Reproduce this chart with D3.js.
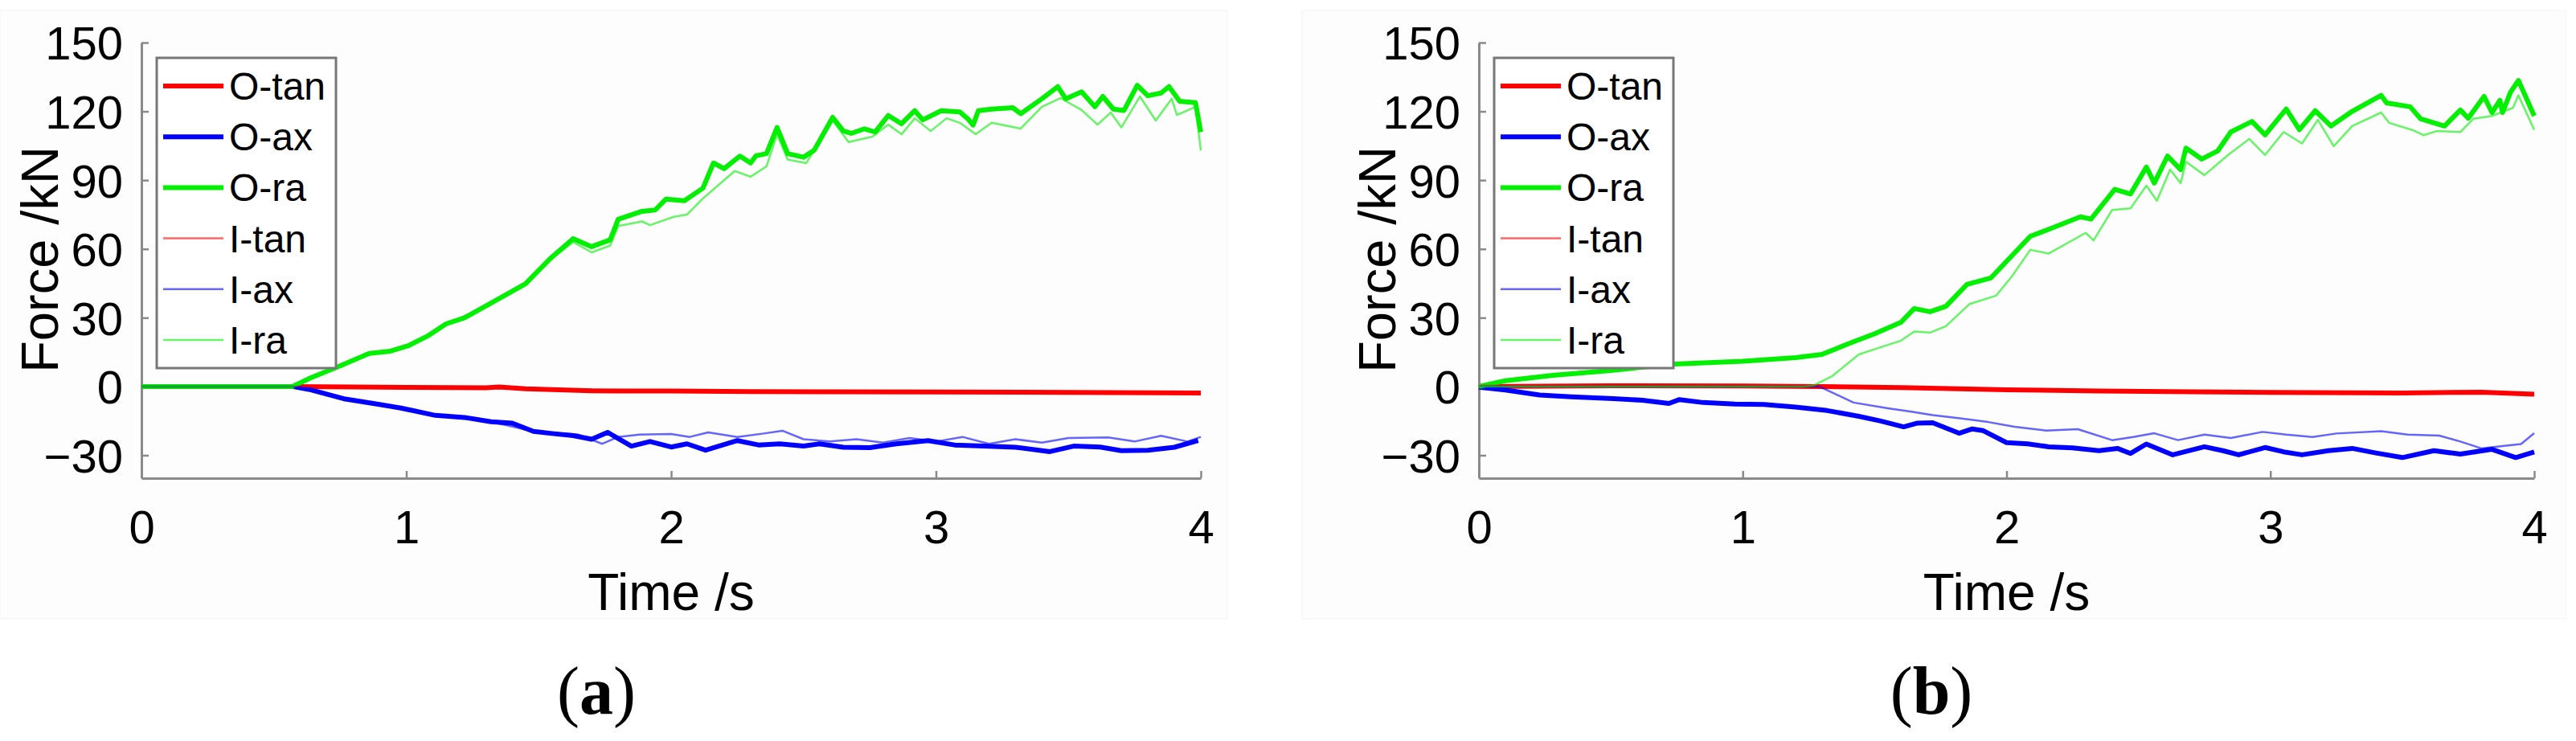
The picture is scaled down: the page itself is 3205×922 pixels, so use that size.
<!DOCTYPE html>
<html>
<head>
<meta charset="utf-8">
<script src="https://cdn.jsdelivr.net/npm/d3@7"></script>
<style>
  body { margin: 0; background: #fff; }
  svg text { font-family: "Liberation Sans", Arial, sans-serif; fill: #000; }
  text.caption { font-family: "Liberation Serif", "Times New Roman", serif; }
</style>
</head>
<body>
<div id="chart"></div>
<script>
// tick values and labels
var xTicks = [0, 1, 2, 3, 4];
var yTicks = [-30, 0, 30, 60, 90, 120, 150];
var seriesNames = ["O-tan", "O-ax", "O-ra", "I-tan", "I-ax", "I-ra"];
var captions = ["a", "b"];

// panel (a): [time s, force kN]
var aOTan = [[0,0],[0.57,0],[0.8,-0.2],[1.0,-0.4],[1.3,-0.6],[1.35,-0.2],[1.45,-1.0],[1.7,-1.9],[2.0,-2.0],[2.3,-2.2],[2.6,-2.3],[3.0,-2.4],[3.5,-2.6],[4.0,-2.8]];
var aOAx = [[0,0],[0.57,0],[0.64,-1.5],[0.77,-5.5],[0.88,-7.5],[0.98,-9.4],[1.11,-12.6],[1.22,-13.5],[1.32,-15.4],[1.40,-16],[1.48,-19.6],[1.55,-20.5],[1.63,-21.4],[1.70,-23],[1.76,-20],[1.85,-26],[1.92,-24],[2.0,-26.4],[2.06,-25],[2.13,-27.8],[2.25,-23.6],[2.33,-25.5],[2.41,-25],[2.50,-26],[2.56,-25],[2.65,-26.5],[2.75,-26.7],[2.85,-25],[2.97,-23.6],[3.07,-25.5],[3.18,-26],[3.30,-26.5],[3.43,-28.4],[3.52,-26],[3.62,-26.4],[3.70,-28],[3.80,-27.8],[3.90,-26.5],[3.99,-23.6]];
var aORa = [[0,0],[0.57,0],[0.64,3.8],[0.75,9],[0.86,14.4],[0.94,15.4],[1.01,17.9],[1.08,22],[1.15,27.3],[1.22,30],[1.32,36.4],[1.45,44.8],[1.54,55.4],[1.63,64.5],[1.70,61],[1.77,64],[1.80,72.9],[1.89,76.4],[1.94,77],[1.98,81.7],[2.05,81],[2.12,86.5],[2.16,97.5],[2.2,95],[2.26,100.5],[2.30,97.5],[2.32,100.6],[2.36,101.6],[2.40,113],[2.44,101.6],[2.50,100],[2.54,103],[2.61,117.4],[2.65,111.5],[2.68,110.4],[2.73,112.4],[2.77,111],[2.82,118.2],[2.87,114.6],[2.92,120.3],[2.95,116.3],[3.02,120.3],[3.09,119.8],[3.12,116.8],[3.14,114],[3.16,120.3],[3.21,121],[3.29,121.6],[3.32,119],[3.40,125.5],[3.46,130.8],[3.49,125.5],[3.55,128.5],[3.60,122],[3.63,126.5],[3.67,121],[3.71,120.4],[3.76,131.4],[3.80,126.8],[3.85,128],[3.88,130.8],[3.92,124.4],[3.98,123.8],[4.0,111]];
var aITan = [[0,0],[0.57,0],[1.0,-0.3],[1.5,-1.0],[2.0,-1.8],[3.0,-2.2],[4.0,-2.5]];
var aIAx = [[0,0],[0.57,0],[0.64,-1.5],[0.77,-5.5],[0.98,-9.4],[1.11,-12.6],[1.32,-15.4],[1.48,-19.6],[1.65,-21],[1.74,-25],[1.80,-22],[1.88,-21],[2.0,-20.7],[2.07,-22],[2.14,-20],[2.25,-22],[2.35,-20.5],[2.42,-19.3],[2.50,-23],[2.60,-24],[2.70,-23],[2.80,-24.5],[2.90,-22.5],[3.0,-24],[3.1,-22],[3.2,-25],[3.3,-23],[3.4,-24.5],[3.5,-22.5],[3.65,-22.2],[3.75,-24],[3.85,-21.5],[3.95,-24],[4.0,-22]];
var aIRa = [[0,0],[0.57,0],[0.64,3.5],[0.86,14],[1.01,17.5],[1.15,27],[1.32,36],[1.45,44.5],[1.54,55],[1.63,63],[1.70,58.5],[1.77,61.5],[1.80,70],[1.89,72],[1.92,70.4],[2.01,74],[2.06,75],[2.12,82],[2.19,89],[2.24,94],[2.30,91.5],[2.36,96],[2.40,110],[2.44,99],[2.51,97.4],[2.61,116],[2.67,106.6],[2.76,109],[2.82,114.2],[2.87,110],[2.92,117],[2.98,111.4],[3.04,117],[3.09,115],[3.15,110],[3.21,115],[3.32,112.5],[3.40,122],[3.47,125.8],[3.55,120.6],[3.61,114.2],[3.66,119.5],[3.70,113],[3.77,126.5],[3.83,116],[3.89,125.5],[3.91,118.4],[3.98,122],[4.0,103]];

// panel (b)
var bOTan = [[0,0],[0.5,0.3],[1.0,0.2],[1.3,0],[1.6,-0.5],[2.0,-1.4],[2.35,-2.0],[2.7,-2.3],[3.0,-2.6],[3.5,-2.8],[3.8,-2.5],[4.0,-3.4]];
var bOAx = [[0,-0.3],[0.1,-1.5],[0.23,-3.7],[0.35,-4.5],[0.51,-5.3],[0.62,-6],[0.72,-7.4],[0.76,-5.7],[0.85,-7],[0.97,-7.7],[1.08,-7.8],[1.2,-9],[1.32,-10.5],[1.44,-13],[1.52,-15],[1.61,-17.6],[1.66,-16],[1.72,-15.8],[1.82,-20.4],[1.87,-18.5],[1.91,-19.2],[2.0,-24.5],[2.08,-25],[2.16,-26.3],[2.25,-26.8],[2.35,-28],[2.42,-27],[2.47,-29.2],[2.53,-25.1],[2.63,-29.8],[2.75,-26.3],[2.82,-28],[2.88,-29.8],[2.98,-26.6],[3.05,-28.5],[3.12,-29.8],[3.22,-28],[3.31,-27],[3.40,-29],[3.50,-31],[3.62,-28],[3.72,-29.5],[3.84,-27.4],[3.93,-31],[4.0,-28.6]];
var bORa = [[0,0],[0.1,2.5],[0.28,4.9],[0.5,7],[0.74,9.8],[1.0,11],[1.2,12.6],[1.3,14],[1.4,18.6],[1.5,23],[1.6,28],[1.65,34],[1.71,32.6],[1.77,35],[1.85,44.5],[1.94,47.3],[2.02,57],[2.09,65.5],[2.17,69],[2.28,74],[2.32,73],[2.41,86],[2.47,84],[2.53,95.7],[2.56,88.7],[2.61,100.5],[2.66,94.6],[2.68,104],[2.74,99.2],[2.80,102.7],[2.85,111],[2.93,115.6],[2.98,109.7],[3.06,121],[3.11,112],[3.17,120.3],[3.23,113.6],[3.31,120],[3.42,127],[3.44,123.7],[3.53,122],[3.57,116.7],[3.66,113.6],[3.72,120.6],[3.75,117],[3.81,126.5],[3.84,119.5],[3.87,124.8],[3.88,119.5],[3.91,128.3],[3.94,133.5],[3.97,125.8],[4.0,118]];
var bITan = [[0,0.3],[0.5,0.4],[1.0,0.3],[1.3,0.2],[1.6,-0.3],[2.0,-1.2],[2.5,-1.9],[3.0,-2.3],[3.5,-2.5],[4.0,-3.0]];
var bIAx = [[0,0],[1.29,0],[1.42,-7],[1.55,-9.5],[1.64,-11],[1.72,-12.5],[1.83,-14],[1.93,-15.5],[2.03,-17.6],[2.15,-19.2],[2.27,-18.6],[2.40,-23.4],[2.48,-22],[2.56,-20.4],[2.65,-23.4],[2.75,-21],[2.85,-22.5],[2.97,-19.8],[3.06,-21],[3.16,-22],[3.25,-20.5],[3.42,-19.5],[3.52,-21],[3.64,-21.4],[3.72,-24],[3.80,-27],[3.88,-26],[3.95,-25.1],[4.0,-20.4]];
var bIRa = [[0,0],[1.23,0],[1.27,0.5],[1.34,4.6],[1.44,14],[1.52,17],[1.60,20],[1.65,24],[1.71,23.5],[1.77,26.3],[1.86,36],[1.96,39.6],[2.02,48],[2.09,59.6],[2.16,58],[2.30,67],[2.33,63.7],[2.40,77],[2.47,77.7],[2.53,87.6],[2.57,81],[2.62,94.6],[2.66,88.7],[2.68,98],[2.75,92.2],[2.84,101],[2.92,108],[2.98,101],[3.05,111],[3.12,106],[3.18,116.3],[3.24,104.8],[3.31,113.6],[3.42,119.5],[3.45,115],[3.54,111.8],[3.58,109.6],[3.63,111.4],[3.72,111],[3.77,116.8],[3.84,118],[3.92,121.6],[3.94,127],[3.98,117],[4.0,112]];

var panelsData = [
  [aOTan, aOAx, aORa, aITan, aIAx, aIRa],
  [bOTan, bOAx, bORa, bITan, bIAx, bIRa]
];

// styles
var colors = ["#ff0000", "#0000ff", "#00f000", "#ff0000", "#0000ff", "#00f000"];
var widths = [6, 6, 6, 2.5, 2.5, 2.5];
var opac = [1, 1, 1, 0.6, 0.6, 0.6];

var layout = [
  {bg: [0, 13, 1527, 770], x0: 176, x1: 1494, capX: 742},
  {bg: [1620, 13, 3192, 770], x0: 1840, x1: 3153, capX: 2403}
];

var W = 3205, H = 922;
var svg = d3.select('#chart').append('svg')
  .attr('width', W)
  .attr('height', H);

layout.forEach(function(L, p) {
  var g = svg.append('g');

  g.append('rect')
    .attr('x', L.bg[0]).attr('y', L.bg[1])
    .attr('width', L.bg[2] - L.bg[0]).attr('height', L.bg[3] - L.bg[1])
    .attr('fill', '#fdfdfd').attr('stroke', '#f4f4f4');

  var x = d3.scaleLinear().domain([0, 4]).range([L.x0, L.x1]);
  var y = d3.scaleLinear().domain([-40, 150]).range([595, 53]);

  var xAxis = g.append('g')
    .attr('transform', 'translate(0,595)')
    .call(d3.axisBottom(x).tickValues(xTicks).tickFormat(d3.format('d'))
      .tickSizeInner(-9).tickSizeOuter(0).tickPadding(40));
  var yAxis = g.append('g')
    .attr('transform', 'translate(' + L.x0 + ',0)')
    .call(d3.axisLeft(y).tickValues(yTicks).tickFormat(d3.format('d'))
      .tickSizeInner(-9).tickSizeOuter(0).tickPadding(23));

  [xAxis, yAxis].forEach(function(ax) {
    ax.select('.domain').attr('stroke', '#8a8a8a').attr('stroke-width', 3);
    ax.selectAll('.tick line').attr('stroke', '#8a8a8a').attr('stroke-width', 2.5);
    ax.selectAll('.tick text')
      .attr('font-family', '"Liberation Sans", Arial, sans-serif')
      .attr('font-size', 58).attr('fill', '#000');
  });
  yAxis.selectAll('.tick text').attr('dy', '0.36em');

  // lines
  var line = d3.line().x(function(d) { return x(d[0]); }).y(function(d) { return y(d[1]); });
  panelsData[p].forEach(function(s, i) {
    g.append('path')
      .datum(s)
      .attr('d', line)
      .attr('fill', 'none')
      .attr('stroke', colors[i])
      .attr('stroke-opacity', opac[i])
      .attr('stroke-width', widths[i])
      .attr('stroke-linejoin', 'round');
  });

  // axis labels
  g.append('text')
    .attr('x', (L.x0 + L.x1) / 2).attr('y', 759)
    .attr('text-anchor', 'middle').attr('font-size', 64)
    .text('Time /s');
  g.append('text')
    .attr('transform', 'translate(' + (L.x0 - 104) + ',323) rotate(-90)')
    .attr('text-anchor', 'middle').attr('font-size', 65)
    .text('Force /kN');

  // legend
  var lx = L.x0 + 19, ly = 72, lw = 223, lh = 386, step = 63.2;
  var leg = g.append('g');
  leg.append('rect')
    .attr('x', lx).attr('y', ly).attr('width', lw).attr('height', lh)
    .attr('fill', '#fff').attr('stroke', '#777').attr('stroke-width', 3);
  seriesNames.forEach(function(name, i) {
    var cy = ly + 35 + i * step;
    leg.append('line')
      .attr('x1', lx + 8).attr('x2', lx + 83)
      .attr('y1', cy).attr('y2', cy)
      .attr('stroke', colors[i]).attr('stroke-opacity', opac[i])
      .attr('stroke-width', widths[i]);
    leg.append('text')
      .attr('x', lx + 90).attr('y', cy + 17)
      .attr('font-size', 48)
      .text(name);
  });

  // caption
  var cap = g.append('text')
    .attr('class', 'caption')
    .attr('x', L.capX).attr('y', 888)
    .attr('text-anchor', 'middle').attr('font-size', 84);
  cap.append('tspan').text('(');
  cap.append('tspan').attr('font-weight', 'bold').text(captions[p]);
  cap.append('tspan').text(')');
});
</script>
</body>
</html>
